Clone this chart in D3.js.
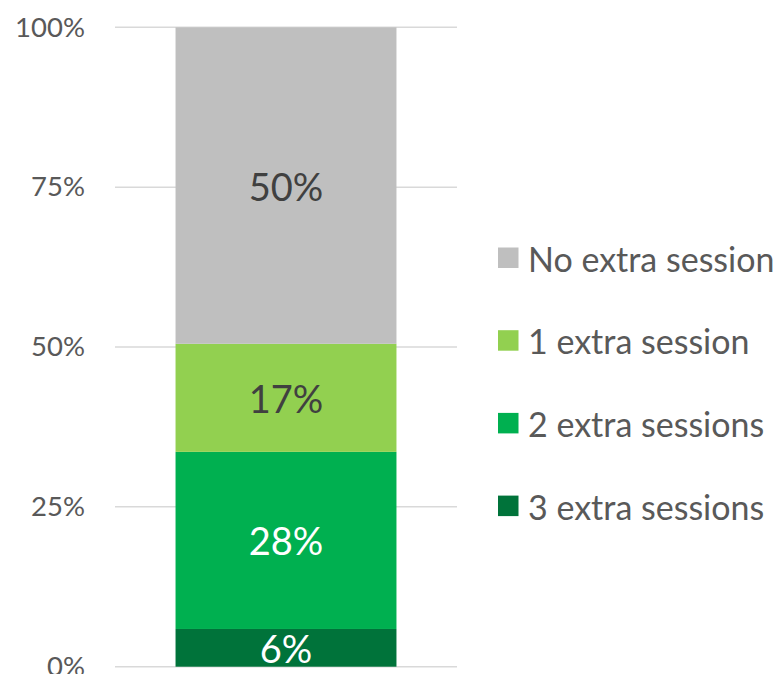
<!DOCTYPE html>
<html>
<head>
<meta charset="utf-8">
<script src="https://cdn.jsdelivr.net/npm/d3@7"></script>
<style>
  html, body { margin: 0; padding: 0; background: #fff; }
  svg { display: block; font-family: Lato, "Open Sans", sans-serif; }
</style>
</head>
<body>
<svg id="chart" width="782" height="674"></svg>
<script>
// Share of participants by number of extra sessions (percent, stacked bottom to top)
const categories = ["3 extra sessions", "2 extra sessions", "1 extra session", "No extra session"];
const shares = [5.9, 27.7, 16.9, 49.5];
const colors = ["#00733A", "#00B050", "#92D050", "#BFBFBF"];
const labelColors = ["#ffffff", "#ffffff", "#404040", "#404040"];
const yTicks = [0, 25, 50, 75, 100];
const legendOrder = ["No extra session", "1 extra session", "2 extra sessions", "3 extra sessions"];

const svg = d3.select("#chart");

const y = d3.scaleLinear().domain([0, 100]).range([666.7, 27.3]);
const x = d3.scaleBand().domain(["all"]).range([115, 457]).paddingInner(0).paddingOuter(0.274);

// gridlines
svg.append("g")
  .selectAll("line")
  .data(yTicks)
  .join("line")
  .attr("x1", 115).attr("x2", 457)
  .attr("y1", d => y(d)).attr("y2", d => y(d))
  .attr("stroke", "#D9D9D9")
  .attr("stroke-width", 1.5);

// y axis labels
const yAxis = d3.axisLeft(y).tickValues(yTicks).tickSize(0).tickPadding(0).tickFormat(d => d + "%");
const yg = svg.append("g").attr("transform", "translate(85,0)").call(yAxis);
yg.select(".domain").remove();
yg.selectAll("text")
  .attr("fill", "#595959")
  .attr("font-size", 27.5)
  .attr("font-family", "Lato, sans-serif");

// stacked segments
const rows = [Object.fromEntries(categories.map((c, i) => [c, shares[i]]))];
const stack = d3.stack().keys(categories)(rows);

const seg = svg.append("g").selectAll("g")
  .data(stack)
  .join("g");

seg.append("rect")
  .attr("x", x("all"))
  .attr("width", x.bandwidth())
  .attr("y", d => y(d[0][1]))
  .attr("height", d => y(d[0][0]) - y(d[0][1]))
  .attr("fill", (d, i) => colors[i]);

seg.append("text")
  .attr("x", x("all") + x.bandwidth() / 2)
  .attr("y", d => (y(d[0][0]) + y(d[0][1])) / 2)
  .attr("text-anchor", "middle")
  .attr("dominant-baseline", "central")
  .attr("font-size", 38)
  .attr("fill", (d, i) => labelColors[i])
  .text((d, i) => Math.round(shares[i]) + "%");

// legend
const legend = svg.append("g").selectAll("g")
  .data(legendOrder)
  .join("g")
  .attr("transform", (d, i) => `translate(498,${258 + i * 82.7})`);

legend.append("rect")
  .attr("x", 0).attr("y", -10.5)
  .attr("width", 20.5).attr("height", 20.5)
  .attr("fill", d => colors[categories.indexOf(d)]);

legend.append("text")
  .attr("x", 30)
  .attr("y", 0)
  .attr("dominant-baseline", "central")
  .attr("font-size", 34)
  .attr("fill", "#595959")
  .text(d => d);
</script>
</body>
</html>
